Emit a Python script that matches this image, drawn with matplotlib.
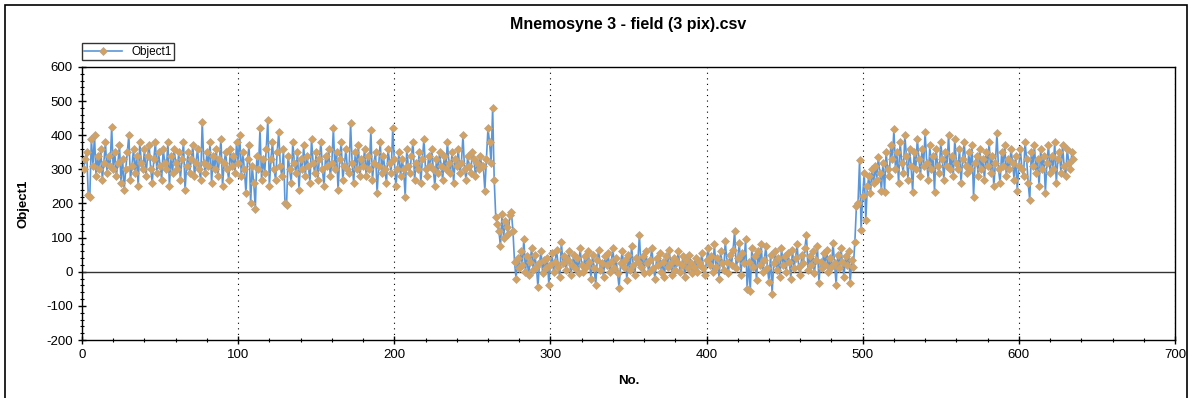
import numpy as np
import matplotlib
matplotlib.use('Agg')
import matplotlib.pyplot as plt
from matplotlib.patches import Rectangle
from matplotlib.ticker import MultipleLocator

plt.rcParams['font.family'] = ['Liberation Sans', 'DejaVu Sans']
plt.rcParams['axes.unicode_minus'] = False

# values, per segment
plateau_1 = [
    300, 330, 350, 225, 220, 390, 310, 400, 280, 340, 300, 360, 270, 320, 380, 290, 340, 310, 425, 300,
    350, 280, 320, 370, 260, 330, 240, 300, 350, 400, 270, 310, 360, 290, 340, 250, 380, 320, 300, 360,
    280, 340, 370, 300, 260, 330, 380, 290, 350, 310, 270, 360, 320, 300, 380, 250, 340, 290, 360, 320,
    300, 350, 270, 330, 380, 240, 310, 350, 290, 330, 370, 280, 320, 360, 300, 270, 440, 320, 290, 350,
    310, 380, 260, 340, 300, 360, 280, 330, 390, 250, 320, 350, 300, 270, 360, 310, 340, 290, 380, 320,
    400, 280, 350, 300, 230, 330, 370, 200, 310, 260, 185, 340, 300, 420, 270, 330, 290, 360, 445, 250,
    330, 380, 300, 270, 350, 410, 310, 280, 360, 200, 195, 340, 300, 260, 380, 320, 290, 350, 240, 330,
    300, 370, 280, 340, 310, 260, 390, 320, 290, 350, 270, 330, 380, 300, 250, 340, 310, 360, 280, 320,
    420, 300, 350, 240, 330, 380, 270, 310, 360, 300, 290, 435, 320, 260, 350, 300, 370, 280, 330, 310,
    360, 280, 340, 300, 415, 270, 320, 350, 230, 310, 380, 290, 340, 300, 260, 360, 320, 290, 420, 330,
    250, 300, 350, 280, 330, 300, 220, 360, 310, 290, 340, 380, 270, 320, 300, 350, 260, 330, 390, 300,
    280, 340, 310, 360, 300, 250, 330, 290, 350, 310, 270, 340, 300, 380, 320, 290, 350, 260, 330, 310,
    360, 290, 320, 400, 300, 270, 340, 310, 290, 350, 330, 280, 320, 300, 340, 310,
]
spike = [310, 238, 330, 420, 380, 320, 480, 270]
drop = [160, 140, 120, 75, 170, 100, 150, 130, 110, 165, 175, 120]
baseline = [
    30, -20, 40, 10, 60, 20, 97, 0, 45, -10, 30, 70, 5, 50, 15, -44, 25, 60, -5, 35,
    10, 40, -38, 20, 55, 0, 30, 65, 15, -15, 88, 25, 45, 5, 35, 60, -10, 20, 50, 10,
    40, -5, 70, 20, 0, 45, 15, 60, 30, -20, 50, 10, -38, 35, 65, 5, 25, -15, 45, 20,
    55, 0, 30, 70, 10, 40, -5, -47, 25, 60, 15, 35, -25, 50, 5, 75, 20, -10, 40, 30,
    108, 15, 45, -5, 60, 25, 0, 35, 70, 10, -20, 40, 20, 55, 0, 30, -15, 45, 15, 65,
    25, -10, 40, 5, 30, 60, 0, 20, 45, -15, 35, 10, 50, 25, -5, 15, 40, 0, 30, 20,
    55, 10, -10, 35, 70, 20, 45, 0, 80, 15, 40, -20, 60, 25, 5, 90, 30, -5, 50, 20,
    65, 120, 10, 40, 85, -10, 55, 25, 95, -50, 30, -56, 70, 15, 45, -25, 60, 20, 80, 0,
    35, 75, 10, -30, 50, -65, 25, 60, 5, 40, -15, 70, 20, 45, 0, 55, 30, -20, 65, 10,
    40, 80, 15, -10, 50, 25, 70, 109, 5, 45, 20, 60, -5, 35, 75, -32, 30, 10, 55, 20,
    65, 0, 40, 15, 85, 25, -38, 50, 10, 70, 30, -15, 45, 20, 60, -32, 35, 15, 88, 194,
]
plateau_2 = [
    200, 326, 123, 223, 290, 153, 250, 280, 230, 300, 260, 310, 270, 335, 290, 238, 320, 235, 350, 300,
    280, 370, 330, 417, 300, 350, 260, 380, 320, 290, 400, 340, 270, 360, 310, 235, 350, 300, 390, 330,
    280, 360, 310, 409, 320, 270, 370, 300, 340, 235, 360, 310, 290, 380, 330, 270, 350, 310, 400, 300,
    340, 280, 390, 320, 300, 360, 260, 330, 380, 310, 290, 350, 300, 370, 220, 320, 340, 280, 360, 300,
    330, 270, 350, 310, 380, 290, 340, 250, 320, 406, 300, 260, 350, 310, 370, 280, 330, 300, 360, 320,
    270, 340, 238, 310, 360, 300, 280, 380, 330, 260, 209, 350, 310, 370, 290, 330, 250, 360, 300, 340,
    232, 320, 370, 290, 340, 300, 380, 260, 330, 350, 290, 370, 310, 280, 360, 320, 300, 350, 330,
]

values = np.array(plateau_1 + spike + drop + baseline + plateau_2)
no = np.arange(1, len(values) + 1)

fig = plt.figure(figsize=(11.92, 3.98), dpi=100)
ax = fig.add_axes([0.0688, 0.1457, 0.9169, 0.686])

# outer frame
fig.patches.append(Rectangle((0.004, -0.02), 0.992, 1.007, transform=fig.transFigure,
                             fill=False, edgecolor='black', linewidth=1.2))

ax.plot(no, values, color='#5B97D8', linewidth=1.2, marker='D', markersize=4.0,
        markerfacecolor='#D4A15E', markeredgecolor='#B9A48A', markeredgewidth=0.5,
        label='Object1', zorder=3)
ax.axhline(0, color='#333333', linewidth=1.0, zorder=2)

ax.set_xlim(0, 700)
ax.set_ylim(-200, 600)
ax.xaxis.set_major_locator(MultipleLocator(100))
ax.xaxis.set_minor_locator(MultipleLocator(20))
ax.yaxis.set_major_locator(MultipleLocator(100))
ax.yaxis.set_minor_locator(MultipleLocator(20))
ax.tick_params(which='major', direction='inout', length=6, width=1, labelsize=9.5)
ax.tick_params(which='minor', direction='inout', length=3, width=0.8)
ax.grid(axis='x', which='major', color='black', linestyle=(0, (1, 4)), linewidth=0.8)
for s in ax.spines.values():
    s.set_linewidth(1.0)

ax.set_title('Mnemosyne 3 - field (3 pix).csv', fontsize=11.5, fontweight='bold', pad=27)
ax.set_xlabel('No.', fontsize=9.5, fontweight='bold', labelpad=10)
ax.set_ylabel('Object1', fontsize=9.5, fontweight='bold', labelpad=12)

leg = ax.legend(loc='lower left', bbox_to_anchor=(0.0, 1.025), fontsize=8.5, frameon=True,
                fancybox=False, edgecolor='black', handlelength=3.2, borderpad=0.2,
                handletextpad=0.8, borderaxespad=0)
leg.get_frame().set_linewidth(1.0)

fig.savefig('out.png', dpi=100)
